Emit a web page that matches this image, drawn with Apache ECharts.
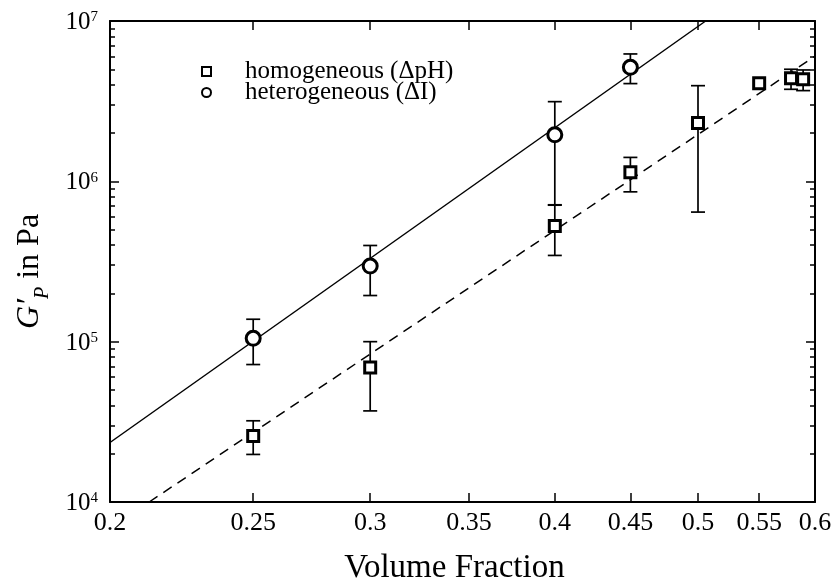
<!DOCTYPE html>
<html>
<head>
<meta charset="utf-8">
<script src="https://cdn.jsdelivr.net/npm/echarts@6.0.0/dist/echarts.min.js"></script>
</head>
<body style="margin:0;background:#fff">
<div id="main" style="width:834px;height:581px"></div>
<script>
// tick positions
var xTickVals = [0.25, 0.3, 0.35, 0.4, 0.45, 0.5, 0.55];
var xLabelVals = [0.2, 0.25, 0.3, 0.35, 0.4, 0.45, 0.5, 0.55, 0.6];
var yDecades = [1e4, 1e5, 1e6, 1e7];
var yMinorTicks = [2e4, 3e4, 4e4, 5e4, 6e4, 7e4, 8e4, 9e4,
                   2e5, 3e5, 4e5, 5e5, 6e5, 7e5, 8e5, 9e5,
                   2e6, 3e6, 4e6, 5e6, 6e6, 7e6, 8e6, 9e6];

// heterogeneous (circles)
var hetX  = [0.25, 0.3, 0.4, 0.45];
var hetY  = [1.05e5, 2.96e5, 1.95e6, 5.14e6];
var hetLo = [7.2e4, 1.94e5, 7.1e5, 4.07e6];
var hetHi = [1.38e5, 3.98e5, 3.14e6, 6.23e6];

// homogeneous (squares)
var homX  = [0.25, 0.3, 0.4, 0.45, 0.5, 0.55, 0.578, 0.589];
var homY  = [2.58e4, 6.9e4, 5.26e5, 1.14e6, 2.31e6, 4.09e6, 4.40e6, 4.33e6];
var homLo = [1.98e4, 3.7e4, 3.45e5, 8.6e5, 6.43e5, null, 3.75e6, 3.68e6];
var homHi = [3.21e4, 1.0e5, 7.14e5, 1.41e6, 3.95e6, null, 5.0e6, 4.95e6];

// fit lines (end points at the frame)
var hetFitX = [0.2, 0.506];
var hetFitY = [2.35e4, 1e7];
var homFitX = [0.2126, 0.6];
var homFitY = [1e4, 6.04e6];

var FONT = 'Liberation Serif';

function pairs(xs, ys) {
  return xs.map(function (x, i) { return [x, ys[i]]; });
}
function errData(xs, lo, hi) {
  var out = [];
  for (var i = 0; i < xs.length; i++) {
    if (lo[i] != null) out.push([xs[i], lo[i], hi[i]]);
  }
  return out;
}
function errBars(params, api) {
  var a = api.coord([api.value(0), api.value(1)]);
  var b = api.coord([api.value(0), api.value(2)]);
  var w = 7;
  var st = { stroke: '#000', lineWidth: 1.7 };
  return {
    type: 'group',
    children: [
      { type: 'line', shape: { x1: a[0], y1: a[1], x2: b[0], y2: b[1] }, style: st },
      { type: 'line', shape: { x1: a[0] - w, y1: a[1], x2: a[0] + w, y2: a[1] }, style: st },
      { type: 'line', shape: { x1: b[0] - w, y1: b[1], x2: b[0] + w, y2: b[1] }, style: st }
    ]
  };
}

function logY(pos, ticks, len, showLine, labels) {
  return {
    type: 'log', min: 1e4, max: 1e7, position: pos,
    axisLine: { show: showLine, onZero: false, lineStyle: { color: '#000', width: 2 } },
    axisTick: { show: true, inside: true, length: len, customValues: ticks,
                lineStyle: { color: '#000', width: 1.5 } },
    axisLabel: labels ? {
      customValues: yDecades, margin: 12, padding: [4, 0, 0, 0],
      formatter: function (v) {
        return '{b|10}{e|' + Math.round(Math.log10(v)) + '}';
      },
      rich: {
        b: { fontFamily: FONT, fontSize: 25, color: '#000', lineHeight: 26, verticalAlign: 'top' },
        e: { fontFamily: FONT, fontSize: 15, color: '#000', lineHeight: 14, verticalAlign: 'top' }
      }
    } : { show: false },
    splitLine: { show: false },
    minorTick: { show: false }
  };
}
function logX(pos, labels) {
  return {
    type: 'log', min: 0.2, max: 0.6, position: pos,
    axisLine: { show: true, onZero: false, lineStyle: { color: '#000', width: 2 } },
    axisTick: { show: true, inside: true, length: 9, customValues: xTickVals,
                lineStyle: { color: '#000', width: 1.5 } },
    axisLabel: labels ? {
      customValues: xLabelVals, margin: 8,
      fontFamily: FONT, fontSize: 26, color: '#000',
      formatter: function (v) { return String(+v.toFixed(2)); }
    } : { show: false },
    splitLine: { show: false }
  };
}

var xBottom = logX('bottom', true);
xBottom.name = 'Volume Fraction';
xBottom.nameLocation = 'middle';
xBottom.nameGap = 50;
xBottom.nameTextStyle = { fontFamily: FONT, fontSize: 33, color: '#000', padding: [0, 16, 0, 0] };

var yLeft = logY('left', yDecades, 9, true, true);
yLeft.name = '{g|G′}{s|P}{t| in Pa}';
yLeft.nameLocation = 'middle';
yLeft.nameGap = 64;
yLeft.nameTextStyle = {
  padding: [0, 20, 0, 0],
  rich: {
    g: { fontFamily: FONT, fontStyle: 'italic', fontSize: 32, color: '#000', lineHeight: 32, verticalAlign: 'top' },
    s: { fontFamily: FONT, fontStyle: 'italic', fontSize: 20, color: '#000', lineHeight: 18, verticalAlign: 'top', padding: [19, 0, 0, 0] },
    t: { fontFamily: FONT, fontSize: 32, color: '#000', lineHeight: 32, verticalAlign: 'top' }
  }
};

var legendText = { fontFamily: FONT, fontSize: 25, color: '#000', padding: [0, 0, 0, 29] };
var iconStyle = { color: '#fff', borderColor: '#000', borderWidth: 2 };

var option = {
  animation: false,
  backgroundColor: '#fff',
  grid: { left: 110, right: 19, top: 21, bottom: 79, outerBoundsMode: 'none', containLabel: false },
  xAxis: [xBottom, logX('top', false)],
  yAxis: [
    yLeft,
    logY('left', yMinorTicks, 5, false, false),
    logY('right', yDecades, 9, true, false),
    logY('right', yMinorTicks, 5, false, false)
  ],
  legend: [
    { data: [{ name: 'homogeneous (ΔpH)', icon: 'rect', itemStyle: iconStyle }],
      left: 201, top: 59, padding: 0, itemWidth: 9, itemHeight: 9,
      textStyle: legendText, selectedMode: false },
    { data: [{ name: 'heterogeneous (ΔI)', icon: 'circle', itemStyle: iconStyle }],
      left: 201, top: 80, padding: 0, itemWidth: 9, itemHeight: 9,
      textStyle: legendText, selectedMode: false }
  ],
  series: [
    { type: 'line', name: 'fitHet', data: pairs(hetFitX, hetFitY), symbol: 'none', silent: true,
      lineStyle: { color: '#000', width: 1.5 }, z: 1 },
    { type: 'line', name: 'fitHom', data: pairs(homFitX, homFitY), symbol: 'none', silent: true,
      lineStyle: { color: '#000', width: 1.5, type: [10, 7] }, z: 1 },
    { type: 'custom', name: 'errHet', renderItem: errBars, data: errData(hetX, hetLo, hetHi),
      encode: { x: 0, y: [1, 2] }, silent: true, z: 2 },
    { type: 'custom', name: 'errHom', renderItem: errBars, data: errData(homX, homLo, homHi),
      encode: { x: 0, y: [1, 2] }, silent: true, z: 2 },
    { type: 'scatter', name: 'homogeneous (ΔpH)', data: pairs(homX, homY), symbol: 'rect', symbolSize: 11,
      itemStyle: { color: '#fff', borderColor: '#000', borderWidth: 3, opacity: 1 }, z: 3 },
    { type: 'scatter', name: 'heterogeneous (ΔI)', data: pairs(hetX, hetY), symbol: 'circle', symbolSize: 14,
      itemStyle: { color: '#fff', borderColor: '#000', borderWidth: 3, opacity: 1 }, z: 3 }
  ]
};

var chart = echarts.init(document.getElementById('main'), null, { renderer: 'canvas' });
chart.setOption(option);
</script>
</body>
</html>
